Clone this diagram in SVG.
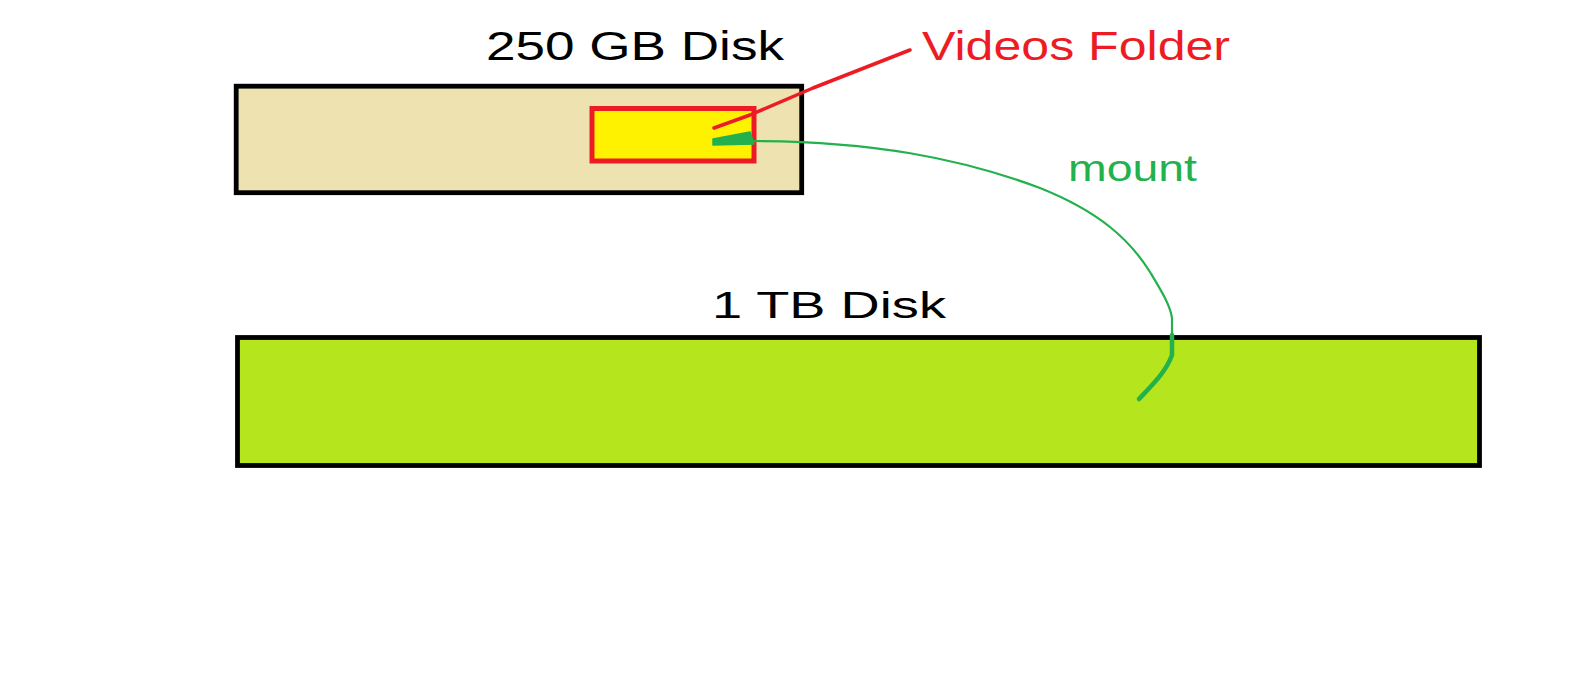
<svg xmlns="http://www.w3.org/2000/svg" width="1580" height="695" viewBox="0 0 1580 695">
<style>
.lbl{font-family:"Liberation Sans","DejaVu Sans",sans-serif;}
.blk{fill:#000;}
.red{fill:#ED1C24;}
.grn{fill:#22B14C;}
.disk{stroke:#000;stroke-width:4.8;}
.ln{fill:none;stroke-linecap:round;stroke-linejoin:round;}
</style>
<rect width="1580" height="695" fill="#fff"/>
<g id="disk250">
<rect class="disk" x="236.2" y="86.2" width="565.5" height="106.5" fill="#EEE2B1"/>
<text class="lbl blk" x="486" y="60" font-size="40" textLength="298" lengthAdjust="spacingAndGlyphs">250 GB Disk</text>
</g>
<g id="videosFolder">
<rect x="592" y="108.5" width="162" height="52.5" fill="#FFF200" stroke="#ED1C24" stroke-width="5"/>
<text class="lbl red" x="922" y="60" font-size="40" textLength="308" lengthAdjust="spacingAndGlyphs">Videos Folder</text>
</g>
<g id="disk1tb">
<rect class="disk" x="237.5" y="337.5" width="1242" height="128" fill="#B5E61D"/>
<text class="lbl blk" x="712" y="318" font-size="36" textLength="234" lengthAdjust="spacingAndGlyphs">1 TB Disk</text>
</g>
<g id="mountLabel">
<text class="lbl grn" x="1068" y="181" font-size="36" textLength="129" lengthAdjust="spacingAndGlyphs">mount</text>
</g>
<g id="connectors">
<path class="ln" d="M714,128 L750,115 L813,88 L910,50" stroke="#ED1C24" stroke-width="3.5"/>
<path class="ln" d="M752,141 C870,141 960,158 1040,188 C1100,212 1130,240 1150,272 C1162,292 1170,305 1172,318 L1172,340" stroke="#22B14C" stroke-width="2.2"/>
<path class="ln" d="M1172,335 L1172,355 C1166,372 1152,385 1139,399" stroke="#22B14C" stroke-width="4.5"/>
<polygon points="713,139 750,132 754,144 713,145" fill="#22B14C" stroke="#22B14C" stroke-width="1.5" stroke-linejoin="round"/>
</g>
</svg>
